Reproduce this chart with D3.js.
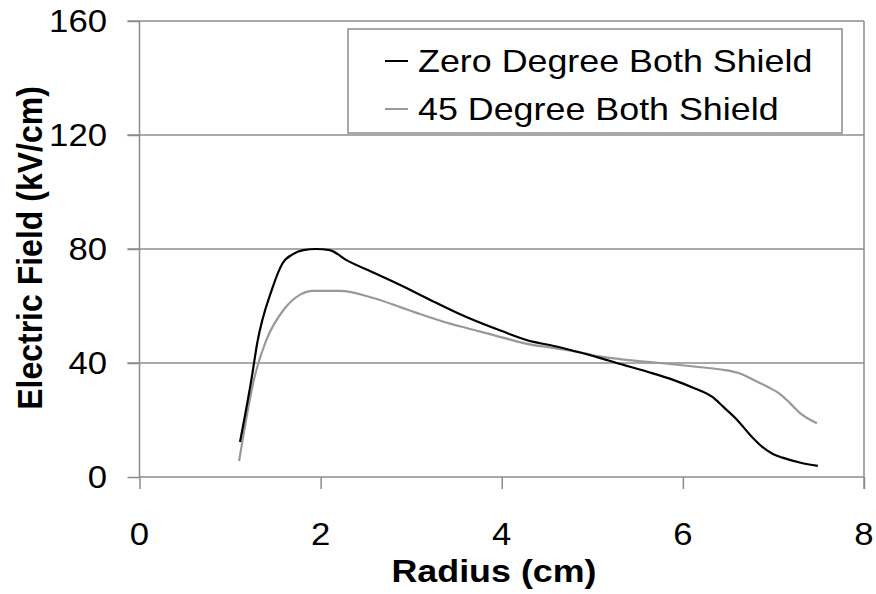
<!DOCTYPE html>
<html>
<head>
<meta charset="utf-8">
<script src="https://cdn.jsdelivr.net/npm/d3@7"></script>
<style>
  body { margin: 0; background: #fff; }
  svg { display: block; font-family: "Liberation Sans", Arial, sans-serif; }
</style>
</head>
<body>
<div id="chart"></div>
<script>
var w = 876;
var h = 594;

// series
var zeroRadius = [1.11, 1.24, 1.30, 1.46, 1.58, 1.70, 1.81, 1.95, 2.10, 2.29, 2.60, 2.88, 3.20, 3.61, 4.00, 4.35, 4.53, 4.80, 5.08, 5.27, 5.60, 5.90, 6.10, 6.33, 6.45, 6.60, 6.75, 6.88, 7.00, 7.10, 7.30, 7.49];
var zeroField  = [12.3, 35, 47, 65.6, 75, 78.3, 79.6, 80, 79.6, 76, 71.5, 67.4, 62.3, 56.1, 51.2, 47.4, 46.3, 44.2, 41.8, 40, 37, 34, 31.5, 28, 24.5, 20, 14.5, 10.5, 8, 6.8, 5, 3.9];

var degRadius = [1.10, 1.27, 1.40, 1.59, 1.77, 1.92, 2.21, 2.58, 2.88, 3.06, 3.43, 3.61, 4.00, 4.35, 4.53, 4.90, 5.08, 5.40, 5.75, 6.20, 6.45, 6.63, 6.81, 6.95, 7.07, 7.18, 7.29, 7.48];
var degField  = [5.6, 35, 48, 58.6, 63.9, 65.3, 65.3, 62.8, 59.6, 57.6, 53.8, 52.3, 49, 46.3, 45.5, 43.5, 42.3, 41, 40, 38.5, 37.6, 36.3, 33.6, 31.4, 29.2, 26, 22.5, 18.9];

var xTicks = [0, 2, 4, 6, 8];
var yTicks = [0, 40, 80, 120, 160];
var seriesNames = ["Zero Degree Both Shield", "45 Degree Both Shield"];
var seriesColors = ["#000000", "#999999"];

var plotL = 139.5, plotR = 864, plotT = 21, plotB = 477;
var stretch = 1.12;

var svg = d3.select("#chart").append("svg")
            .attr("width", w)
            .attr("height", h);

var x = d3.scaleLinear().domain([0, 8]).range([plotL, plotR]);
var y = d3.scaleLinear().domain([0, 160]).range([plotB, plotT]);

// gridlines
svg.selectAll("line.grid")
   .data(yTicks.filter(function(d) { return d > 0; }))
   .enter()
   .append("line")
   .attr("class", "grid")
   .attr("x1", plotL - 12)
   .attr("x2", plotR)
   .attr("y1", function(d) { return y(d); })
   .attr("y2", function(d) { return y(d); })
   .attr("stroke", "#8c8c8c")
   .attr("stroke-width", 1.5);

// axes
var yAxis = svg.append("g")
   .attr("transform", "translate(" + plotL + ",0)")
   .call(d3.axisLeft(y).tickValues(yTicks).tickSize(12).tickFormat(""));
var xAxis = svg.append("g")
   .attr("transform", "translate(0," + plotB + ")")
   .call(d3.axisBottom(x).tickValues(xTicks).tickSize(12).tickFormat(""));
[xAxis, yAxis].forEach(function(a) {
  a.selectAll("path, line").attr("stroke", "#8c8c8c").attr("stroke-width", 1.5);
});
xAxis.select(".domain").attr("d", "M" + plotL + ",0H" + plotR);
yAxis.select(".domain").attr("d", "M0," + plotB + "V" + plotT);

// right border
svg.append("line")
   .attr("x1", plotR).attr("x2", plotR)
   .attr("y1", plotT).attr("y2", plotB + 12)
   .attr("stroke", "#8c8c8c")
   .attr("stroke-width", 1.5);

function addText(tx, ty, str, anchor, size, weight, rot) {
  return svg.append("text")
     .attr("transform", "translate(" + tx + "," + ty + ") scale(" + stretch + ",1)" + (rot ? " rotate(" + rot + ")" : ""))
     .attr("text-anchor", anchor)
     .attr("font-size", size)
     .attr("font-weight", weight)
     .attr("fill", "#000")
     .text(str);
}

yTicks.forEach(function(d) {
  addText(107, y(d) + 11, d, "end", 31, "normal");
});
xTicks.forEach(function(d) {
  addText(x(d), 545, d, "middle", 31, "normal");
});

addText(494, 582, "Radius (cm)", "middle", 32, "bold");
addText(42, 248, "Electric Field (kV/cm)", "middle", 32, "bold", -90);

// lines
var line = d3.line()
   .x(function(d) { return x(d[0]); })
   .y(function(d) { return y(d[1]); })
   .curve(d3.curveMonotoneX);

var series = [
  d3.zip(zeroRadius, zeroField),
  d3.zip(degRadius, degField)
];

// gray first so black sits on top
[1, 0].forEach(function(i) {
  svg.append("path")
     .datum(series[i])
     .attr("d", line)
     .attr("fill", "none")
     .attr("stroke", seriesColors[i])
     .attr("stroke-width", 2.2);
});

// legend
svg.append("rect")
   .attr("x", 348).attr("y", 29)
   .attr("width", 494).attr("height", 104)
   .attr("fill", "#fff")
   .attr("stroke", "#8c8c8c")
   .attr("stroke-width", 1.5);

seriesNames.forEach(function(name, i) {
  var cy = 61 + i * 48;
  svg.append("line")
     .attr("x1", 385).attr("x2", 408)
     .attr("y1", cy).attr("y2", cy)
     .attr("stroke", seriesColors[i])
     .attr("stroke-width", 2);
  addText(418, cy + 11, name, "start", 32, "normal");
});
</script>
</body>
</html>
